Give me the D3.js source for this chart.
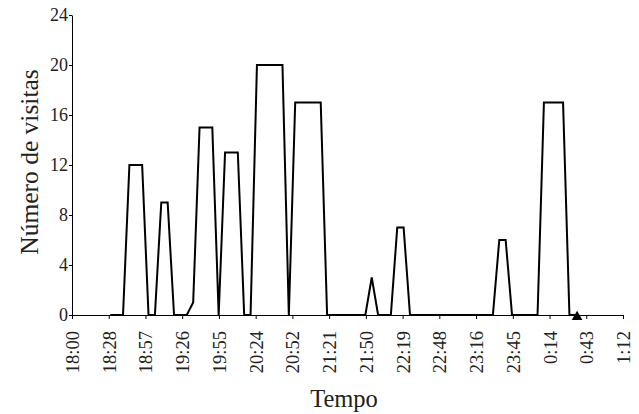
<!DOCTYPE html>
<html>
<head>
<meta charset="utf-8">
<script src="https://cdnjs.cloudflare.com/ajax/libs/d3/7.8.5/d3.min.js"></script>
<style>
  body { margin: 0; background: #fff; }
</style>
</head>
<body>
<svg id="chart"></svg>
<script>
const width = 639, height = 414;
const serif = '"Liberation Serif", "Times New Roman", serif';

// horas das observações (intervalos de 5 min)
const horas = [
  "18:30","18:35","18:40","18:45","18:50","18:55","19:00","19:05","19:10","19:15",
  "19:20","19:25","19:30","19:35","19:40","19:45","19:50","19:55","20:00","20:05",
  "20:10","20:15","20:20","20:25","20:30","20:35","20:40","20:45","20:50","20:55",
  "21:00","21:05","21:10","21:15","21:20","21:25","21:30","21:35","21:40","21:45",
  "21:50","21:55","22:00","22:05","22:10","22:15","22:20","22:25","22:30","22:35",
  "22:40","22:45","22:50","22:55","23:00","23:05","23:10","23:15","23:20","23:25",
  "23:30","23:35","23:40","23:45","23:50","23:55","0:00","0:05","0:10","0:15",
  "0:20","0:25","0:30","0:35"
];
const visitas = [
  0,0,0,12,12,12,0,0,9,9,
  0,0,0,1,15,15,15,0,13,13,
  13,0,0,20,20,20,20,20,0,17,
  17,17,17,17,0,0,0,0,0,0,
  0,3,0,0,0,7,7,0,0,0,
  0,0,0,0,0,0,0,0,0,0,
  0,6,6,0,0,0,0,0,17,17,
  17,17,0,0
];
// ponto assinalado com triângulo
const marcaHora = "0:36", marcaValor = 0;

const xTickLabels = ["18:00","18:28","18:57","19:26","19:55","20:24","20:52","21:21",
  "21:50","22:19","22:48","23:16","23:45","0:14","0:43","1:12"];
const yTicks = [0, 4, 8, 12, 16, 20, 24];

// minutos desde as 18:00
function minutos(h) {
  const [hh, mm] = h.split(":").map(Number);
  let m = (hh < 12 ? hh + 24 : hh) * 60 + mm;
  return m - 18 * 60;
}

const margin = {top: 15, right: 16, bottom: 99, left: 72};

const svg = d3.select("#chart")
    .attr("width", width)
    .attr("height", height);

const x = d3.scaleLinear()
    .domain([0, 432])
    .range([margin.left, width - margin.right]);

const y = d3.scaleLinear()
    .domain([0, 24])
    .range([height - margin.bottom, margin.top]);

const xTicks = xTickLabels.map((d, i) => i * 28.8);

// eixo x
const xAxis = svg.append("g")
    .attr("transform", `translate(0,${y(0)})`)
    .call(d3.axisBottom(x).tickValues(xTicks)
        .tickFormat((d, i) => xTickLabels[i])
        .tickSize(4).tickSizeOuter(0));
xAxis.attr("font-family", null);
xAxis.select(".domain").attr("stroke", "#000");
xAxis.selectAll(".tick line").attr("stroke", "#000");
xAxis.selectAll(".tick text")
    .style("font-family", serif)
    .style("font-size", "18.5px")
    .attr("fill", "#222")
    .attr("transform", "rotate(-90)")
    .attr("text-anchor", "end")
    .attr("x", -16)
    .attr("y", 0)
    .attr("dy", "0.35em");

// eixo y
const yAxis = svg.append("g")
    .attr("transform", `translate(${x(0)},0)`)
    .call(d3.axisLeft(y).tickValues(yTicks).tickSize(3).tickSizeOuter(0).tickPadding(1));
yAxis.attr("font-family", null);
yAxis.select(".domain").attr("stroke", "#000");
yAxis.selectAll(".tick line").attr("stroke", "#000");
yAxis.selectAll(".tick text")
    .style("font-family", serif)
    .style("font-size", "18px")
    .attr("fill", "#222");

// linha
const dados = horas.map((h, i) => ({t: minutos(h), v: visitas[i]}));
const line = d3.line().x(d => x(d.t)).y(d => y(d.v));
svg.append("path")
    .datum(dados)
    .attr("d", line)
    .attr("fill", "none")
    .attr("stroke", "#000")
    .attr("stroke-width", 2)
    .attr("stroke-linejoin", "miter");

// triângulo
svg.append("path")
    .attr("d", d3.symbol().type(d3.symbolTriangle).size(50)())
    .attr("transform", `translate(${x(minutos(marcaHora))},${y(marcaValor) + 2})`)
    .attr("fill", "#000");

// títulos
svg.append("text")
    .attr("x", 344)
    .attr("y", 406.5)
    .attr("text-anchor", "middle")
    .style("font-family", serif)
    .style("font-size", "24.5px")
    .attr("fill", "#222")
    .text("Tempo");

svg.append("text")
    .attr("transform", "translate(38,162) rotate(-90)")
    .attr("text-anchor", "middle")
    .style("font-family", serif)
    .style("font-size", "25.5px")
    .attr("fill", "#222")
    .text("Número de visitas");
</script>
</body>
</html>
